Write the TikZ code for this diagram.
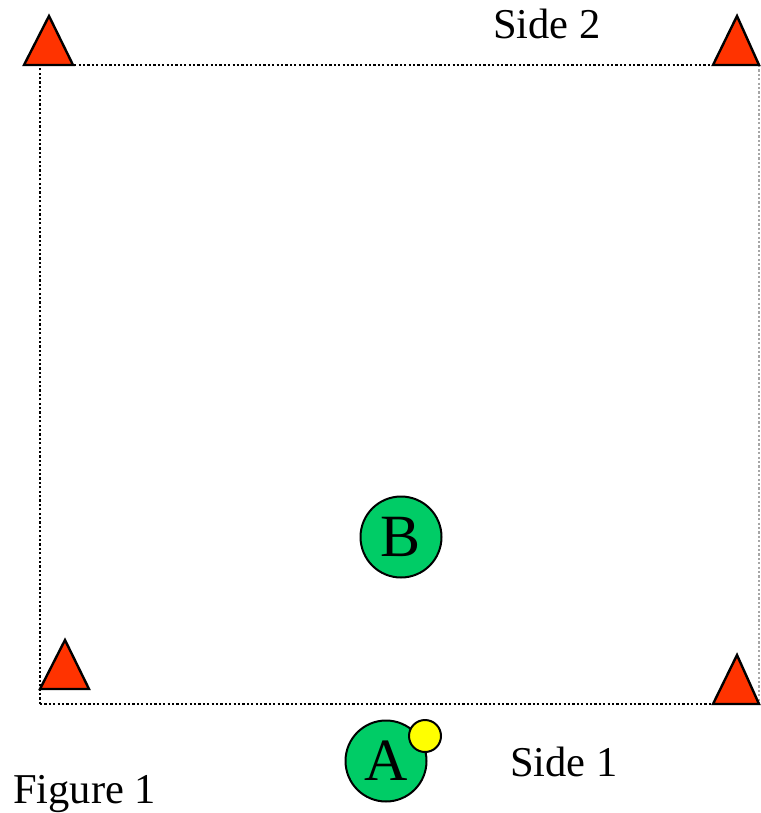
\documentclass[tikz,border=0pt]{standalone}
\usepackage{fontspec}
\setmainfont{Liberation Serif}
\definecolor{conered}{HTML}{FF3300}
\definecolor{playergreen}{HTML}{00CC66}
\definecolor{ballyellow}{HTML}{FFFF00}
\begin{document}
\begin{tikzpicture}[x=1pt,y=-1pt,
  cone/.style={fill=conered,draw=black,line width=2.4pt,line join=miter},
  player/.style={circle,fill=playergreen,draw=black,line width=2pt,inner sep=0pt,minimum size=81pt,font=\fontsize{60}{60}\selectfont},
  ball/.style={circle,fill=ballyellow,draw=black,line width=2pt,inner sep=0pt,minimum size=32pt},
  label/.style={anchor=base west,inner sep=0pt,font=\fontsize{42.5}{42.5}\selectfont},
  boundary/.style={line width=2.4pt,dash pattern=on 2.2pt off 2.2pt}]
\useasboundingbox (0,0) rectangle (760,813);
\coordinate (tl) at (40,65);
\coordinate (tr) at (759,65);
\coordinate (bl) at (40,704);
\coordinate (br) at (759,704);
\draw[boundary] (bl) -- (tl) -- (tr);
\draw[boundary] (bl) -- (br);
\draw[line width=1.2pt,draw=gray!70,dash pattern=on 2.2pt off 2.2pt] (tr) -- (br);
% cones
\draw[cone] (24,65) -- (49,16) -- (73,65) -- cycle;
\draw[cone] (713,65) -- (737,16) -- (759,65) -- cycle;
\draw[cone] (40,689) -- (65,640) -- (89,689) -- cycle;
\draw[cone] (713,704) -- (737,655) -- (759,704) -- cycle;
% players
\node[player] (B) at (401,537) {B};
\node[player] (A) at (386,761) {A};
\node[ball] (ball) at (425,736) {};
% labels
\node[label] (side2) at (493,39) {Side 2};
\node[label] (side1) at (510,776) {Side 1};
\node[label] (fig) at (13,803) {Figure 1};
\end{tikzpicture}
\end{document}
